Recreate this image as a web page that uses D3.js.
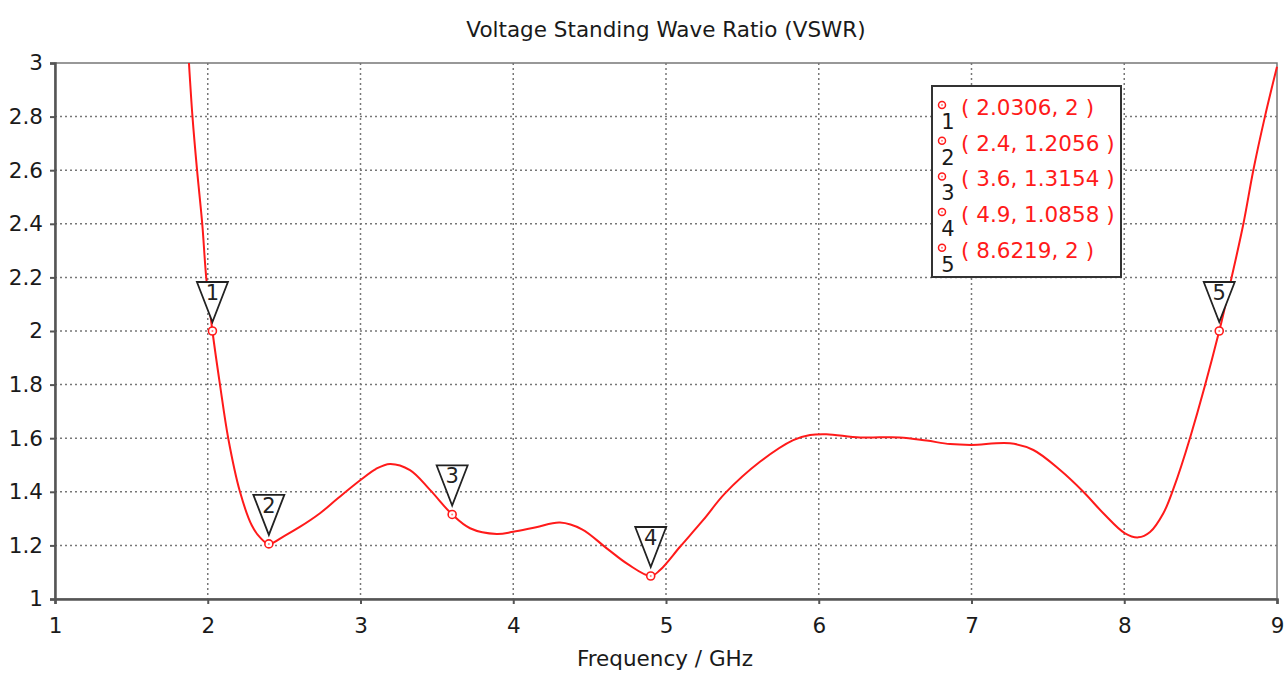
<!DOCTYPE html>
<html>
<head>
<meta charset="utf-8">
<script src="https://cdn.jsdelivr.net/npm/d3@7"></script>
<style>
  body { margin: 0; background: #fff; }
  svg { display: block; font-family: "DejaVu Sans", sans-serif; }
</style>
</head>
<body>
<svg id="canvas" width="1285" height="673"></svg>
<script>
// VSWR curve
const freq = [1.877, 1.9, 1.93, 1.964, 1.99, 2.0306, 2.08, 2.134, 2.211, 2.288, 2.342, 2.4,
  2.5, 2.6, 2.735, 2.85, 3.0, 3.1, 3.193, 3.324, 3.455, 3.6, 3.717, 3.892, 4.0, 4.15, 4.306,
  4.45, 4.61, 4.75, 4.9, 4.961, 5.092, 5.244, 5.386, 5.615, 5.833, 5.943, 6.05, 6.27, 6.53,
  6.706, 6.86, 7.0, 7.252, 7.405, 7.58, 7.732, 7.863, 8.005, 8.092, 8.169, 8.256, 8.321,
  8.43, 8.6219, 8.703, 8.78, 8.845, 8.921, 9.0];
const vswr = [3.0, 2.8, 2.6, 2.4, 2.2, 2.0, 1.8, 1.6, 1.4, 1.275, 1.23, 1.2056,
  1.235, 1.268, 1.32, 1.375, 1.444, 1.485, 1.504, 1.481, 1.407, 1.3154, 1.264, 1.2425, 1.251, 1.268, 1.285,
  1.26, 1.19, 1.13, 1.0858, 1.108, 1.195, 1.295, 1.394, 1.512, 1.593, 1.612, 1.615, 1.603, 1.603,
  1.591, 1.578, 1.575, 1.581, 1.556, 1.481, 1.40, 1.32, 1.245, 1.23, 1.25, 1.32, 1.41,
  1.60, 2.0, 2.2, 2.4, 2.6, 2.8, 2.986];

const markerFreq = [2.0306, 2.4, 3.6, 4.9, 8.6219];
const markerVswr = [2, 1.2056, 1.3154, 1.0858, 2];
const markerNames = ["1", "2", "3", "4", "5"];

const xTicks = [1, 2, 3, 4, 5, 6, 7, 8, 9];
const yTicks = [1, 1.2, 1.4, 1.6, 1.8, 2, 2.2, 2.4, 2.6, 2.8, 3];

const plotLeft = 55, plotRight = 1277, plotTop = 63, plotBottom = 599;

const canvas = d3.select("#canvas");

const x = d3.scaleLinear().domain([1, 9]).range([plotLeft, plotRight]);
const y = d3.scaleLinear().domain([1, 3]).range([plotBottom, plotTop]);

// title and axis label
canvas.append("text")
  .attr("x", 666).attr("y", 37)
  .attr("text-anchor", "middle")
  .attr("font-size", 21.5)
  .attr("fill", "#1a1a1a")
  .text("Voltage Standing Wave Ratio (VSWR)");

canvas.append("text")
  .attr("x", 665).attr("y", 666)
  .attr("text-anchor", "middle")
  .attr("font-size", 21.5)
  .attr("fill", "#1a1a1a")
  .text("Frequency / GHz");

// grid
const grid = canvas.append("g")
  .attr("stroke", "#777")
  .attr("stroke-width", 1.5)
  .attr("stroke-dasharray", "2,3");

grid.selectAll(".vgrid")
  .data(xTicks.slice(1, -1))
  .enter()
  .append("line")
  .attr("x1", (d) => x(d)).attr("x2", (d) => x(d))
  .attr("y1", plotTop).attr("y2", plotBottom);

grid.selectAll(".hgrid")
  .data(yTicks.slice(1, -1))
  .enter()
  .append("line")
  .attr("x1", plotLeft).attr("x2", plotRight)
  .attr("y1", (d) => y(d)).attr("y2", (d) => y(d));

// frame
canvas.append("rect")
  .attr("x", plotLeft).attr("y", plotTop)
  .attr("width", plotRight - plotLeft).attr("height", plotBottom - plotTop)
  .attr("fill", "none")
  .attr("stroke", "#777")
  .attr("stroke-width", 1.5);

// axes
const xAxis = canvas.append("g")
  .attr("transform", `translate(0,${plotBottom})`)
  .call(d3.axisBottom(x).tickValues(xTicks).tickSize(5).tickPadding(9).tickFormat(d3.format("d")));

const yAxis = canvas.append("g")
  .attr("transform", `translate(${plotLeft},0)`)
  .call(d3.axisLeft(y).tickValues(yTicks).tickSize(5).tickPadding(7).tickFormat((d) => String(+d.toFixed(1))));

[xAxis, yAxis].forEach((axis) => {
  axis.select(".domain").attr("stroke", "#555").attr("stroke-width", 2.5);
  axis.selectAll(".tick line").attr("stroke", "#555").attr("stroke-width", 2);
  axis.selectAll(".tick text")
    .attr("font-size", 21.5)
    .attr("fill", "#1a1a1a")
    .attr("font-family", "\"DejaVu Sans\", sans-serif");
});
xAxis.selectAll(".tick text").attr("dy", "0.95em");

// curve
const line = d3.line()
  .x((d, i) => x(freq[i]))
  .y((d, i) => y(vswr[i]))
  .curve(d3.curveCatmullRom.alpha(0.5));

canvas.append("path")
  .datum(vswr)
  .attr("d", line)
  .attr("fill", "none")
  .attr("stroke", "#ff1a1a")
  .attr("stroke-width", 2);

// markers
const markers = canvas.selectAll(".marker")
  .data(markerFreq)
  .enter()
  .append("g")
  .attr("class", "marker")
  .attr("transform", (d, i) => `translate(${x(d)},${y(markerVswr[i])})`);

markers.append("path")
  .attr("d", "M0,-9 L-15.5,-49 L15.5,-49 Z")
  .attr("fill", "#fff")
  .attr("stroke", "#222")
  .attr("stroke-width", 1.8);

markers.append("text")
  .attr("y", -31)
  .attr("text-anchor", "middle")
  .attr("font-size", 21)
  .attr("fill", "#222")
  .text((d, i) => markerNames[i]);

markers.append("circle")
  .attr("r", 4)
  .attr("fill", "#fff")
  .attr("stroke", "#ff1a1a")
  .attr("stroke-width", 1.6);

markers.append("circle")
  .attr("r", 1)
  .attr("fill", "#ff8080");

// marker table
const legend = canvas.append("g");

legend.append("rect")
  .attr("x", 932).attr("y", 86)
  .attr("width", 189).attr("height", 191)
  .attr("fill", "#fff")
  .attr("stroke", "#333")
  .attr("stroke-width", 2);

const rows = legend.selectAll(".row")
  .data(markerFreq)
  .enter()
  .append("g")
  .attr("transform", (d, i) => `translate(0,${i * 35.7})`);

rows.append("circle")
  .attr("cx", 942).attr("cy", 105)
  .attr("r", 3.5)
  .attr("fill", "#fff")
  .attr("stroke", "#ff1a1a")
  .attr("stroke-width", 1.5);

rows.append("circle")
  .attr("cx", 942).attr("cy", 105)
  .attr("r", 1)
  .attr("fill", "#ff8080");

rows.append("text")
  .attr("x", 948).attr("y", 129)
  .attr("text-anchor", "middle")
  .attr("font-size", 21)
  .attr("fill", "#1a1a1a")
  .text((d, i) => markerNames[i]);

rows.append("text")
  .attr("x", 961).attr("y", 115)
  .attr("font-size", 21.5)
  .attr("fill", "#ff1a1a")
  .text((d, i) => `( ${d}, ${markerVswr[i]} )`);
</script>
</body>
</html>
